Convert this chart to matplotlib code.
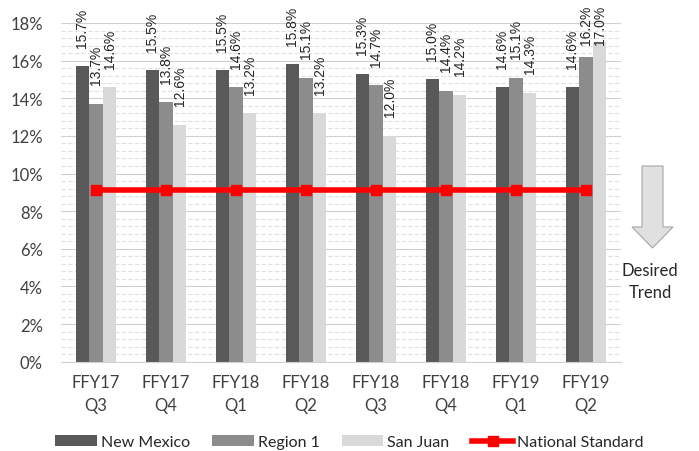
import matplotlib
matplotlib.use('Agg')
import matplotlib.pyplot as plt
import numpy as np
from matplotlib.patches import Polygon
from matplotlib.ticker import MultipleLocator, FuncFormatter

categories = ['FFY17\nQ3', 'FFY17\nQ4', 'FFY18\nQ1', 'FFY18\nQ2',
              'FFY18\nQ3', 'FFY18\nQ4', 'FFY19\nQ1', 'FFY19\nQ2']
new_mexico = [15.7, 15.5, 15.5, 15.8, 15.3, 15.0, 14.6, 14.6]
region_1 = [13.7, 13.8, 14.6, 15.1, 14.7, 14.4, 15.1, 16.2]
san_juan = [14.6, 12.6, 13.2, 13.2, 12.0, 14.2, 14.3, 17.0]
national_std = [9.1] * 8

plt.rcParams['font.family'] = ['Lato', 'DejaVu Sans']

fig = plt.figure(figsize=(6.99, 4.52), dpi=100)
ax = fig.add_axes([61/699, 1 - 362.7/452, 560/699, (362.7 - 24)/452])
ax.set_xlim(-0.5, 7.5)
ax.set_ylim(0, 18)

x = np.arange(len(categories))
w = 0.193
series = [(new_mexico, '#595959', 'New Mexico'),
          (region_1, '#8c8c8c', 'Region 1'),
          (san_juan, '#d9d9d9', 'San Juan')]

handles = []
for i, (vals, col, name) in enumerate(series):
    pos = x + (i - 1) * w
    b = ax.bar(pos, vals, w, color=col, label=name, zorder=2)
    handles.append(b)
    for px, v in zip(pos, vals):
        # keep label inside the figure (top a few px from the edge)
        top_px = ax.transData.transform((px, v))[1]
        room = 452 - 7 - top_px - 38
        off = min(14, room * 72 / 100)
        ax.annotate('%.1f%%' % v, (px, v), xytext=(0, off), textcoords='offset points',
                    rotation=90, ha='center', va='bottom', fontsize=10,
                    family='Liberation Sans', color='#262626', annotation_clip=False,
                    zorder=4)

line, = ax.plot(x, national_std, color='#ff0000', lw=4, marker='s', markersize=7,
                label='National Standard', zorder=3)
handles.append(line)

ax.yaxis.set_major_locator(MultipleLocator(2))
ax.yaxis.set_minor_locator(MultipleLocator(0.4))
ax.yaxis.set_major_formatter(FuncFormatter(lambda v, p: '%d%%' % v))
ax.grid(axis='y', which='major', color='#d0d0d0', lw=0.8, zorder=0)
ax.grid(axis='y', which='minor', color='#e0e0e0', lw=0.8, ls=(0, (4, 2)), zorder=0)
ax.set_axisbelow(True)

ax.set_xticks(x)
ax.set_xticklabels(categories, linespacing=1.5)
ax.tick_params(axis='both', which='both', length=0, labelsize=12, colors='#404040')
ax.tick_params(axis='y', pad=13)
ax.tick_params(axis='x', pad=9)
for s in ['top', 'right', 'left']:
    ax.spines[s].set_visible(False)
ax.spines['bottom'].set_color('#d0d0d0')

fig.legend(handles=handles, loc='center', bbox_to_anchor=(0.5, 1 - 443/452), ncol=4,
           frameon=False, fontsize=11.5, handlelength=2.6, handleheight=0.7,
           handletextpad=0.25, columnspacing=1.4, labelcolor='#262626')

# desired trend arrow
pts = [(642, 167), (663, 167), (663, 228), (673, 228), (652.5, 249),
       (632, 228), (642, 228)]
arrow = Polygon([(px / 699, 1 - py / 452) for px, py in pts], closed=True,
                transform=fig.transFigure, facecolor='#e0e0e0', edgecolor='#a6a6a6', lw=0.8)
fig.patches.append(arrow)
fig.text(650 / 699, 1 - 282 / 452, 'Desired\nTrend', ha='center', va='center',
         fontsize=12, color='#262626', linespacing=1.5)

fig.savefig('out.png', dpi=100)
